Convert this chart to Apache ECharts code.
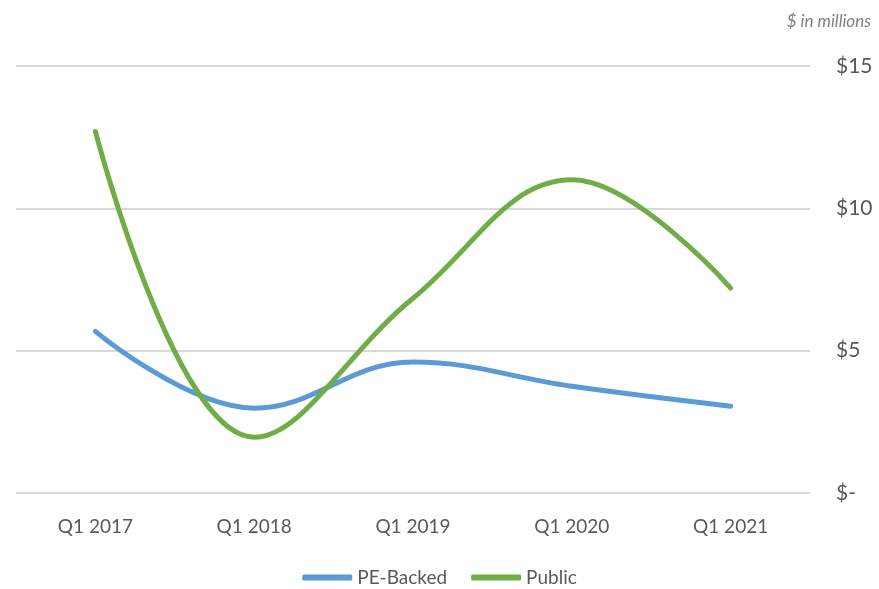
<!DOCTYPE html>
<html>
<head>
<meta charset="utf-8">
<script src="https://cdn.jsdelivr.net/npm/echarts@6/dist/echarts.min.js"></script>
<style>
  html, body { margin: 0; padding: 0; background: #fff; }
  #chart { width: 879px; height: 589px; }
</style>
</head>
<body>
<div id="chart"></div>
<script>
// quarters on the x axis
const categories = ['Q1 2017', 'Q1 2018', 'Q1 2019', 'Q1 2020', 'Q1 2021']
// values in $ millions
const peBacked = [5.68, 2.98, 4.6, 3.75, 3.05]
const publicCos = [12.7, 1.96, 6.84, 11.0, 7.2]

const chart = echarts.init(document.getElementById('chart'))
const textColor = '#595959'
const font = 'Lato, "Open Sans", sans-serif'

const option = {
  animation: false,
  title: {
    text: '$ in millions',
    right: 3,
    top: 8,
    textStyle: {
      fontFamily: font,
      fontSize: 17,
      fontStyle: 'italic',
      fontWeight: 'normal',
      color: '#7f7f7f'
    }
  },
  legend: {
    bottom: -3,
    left: 'center',
    itemWidth: 50,
    itemHeight: 6,
    itemGap: 24,
    icon: 'roundRect',
    textStyle: { fontFamily: font, fontSize: 19, color: textColor },
    data: ['PE-Backed', 'Public']
  },
  grid: { left: 16, right: 69, top: 66, bottom: 96 },
  xAxis: {
    type: 'category',
    data: categories,
    boundaryGap: true,
    axisLine: { show: false },
    axisTick: { show: false },
    axisLabel: { fontFamily: font, fontSize: 19, color: textColor, margin: 24 }
  },
  yAxis: {
    type: 'value',
    position: 'right',
    min: 0,
    max: 15,
    interval: 5,
    axisLine: { show: false },
    axisTick: { show: false },
    splitLine: { lineStyle: { color: '#d9d9d9', width: 2 } },
    axisLabel: {
      fontFamily: font,
      fontSize: 21,
      color: textColor,
      margin: 26,
      formatter: v => v === 0 ? '$-' : '$' + v
    }
  },
  series: [
    {
      name: 'PE-Backed',
      type: 'line',
      data: peBacked,
      smooth: 0.4,
      symbol: 'none',
      lineStyle: { color: '#5b9bd5', width: 5, cap: 'round' },
      itemStyle: { color: '#5b9bd5' }
    },
    {
      name: 'Public',
      type: 'line',
      data: publicCos,
      smooth: 0.4,
      symbol: 'none',
      lineStyle: { color: '#70ad47', width: 5, cap: 'round' },
      itemStyle: { color: '#70ad47' }
    }
  ]
}
chart.setOption(option)
</script>
</body>
</html>
